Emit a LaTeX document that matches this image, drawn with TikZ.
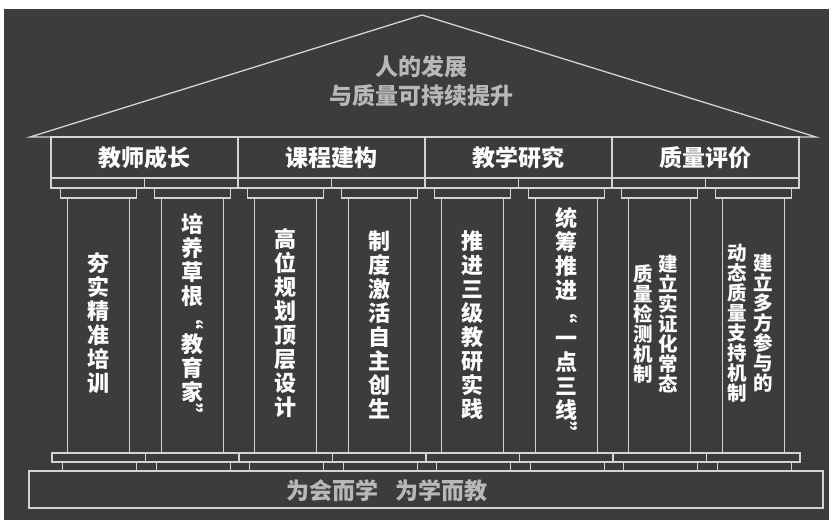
\documentclass[tikz,border=0pt]{standalone}
\usepackage{fontspec}
\setmainfont{Noto Sans CJK SC}
\usepackage{graphicx}
\usetikzlibrary{positioning}

\definecolor{board}{HTML}{3C3C3C}
\definecolor{chalk}{HTML}{D4D4D4}
\definecolor{dimtext}{HTML}{B8B8B8}

\tikzset{
    outline/.style={
           draw=chalk,
           line width=1.3pt,
           },
    cell/.style={
           rectangle,
           outline,
           outer sep=0pt,
           inner sep=0pt,
           },
    header/.style={
           cell,
           minimum width=187pt,
           minimum height=41pt,
           text=white,
           font=\fontsize{23}{23}\selectfont\bfseries,
           },
    pillar/.style={
           text=white,
           align=center,
           inner sep=0pt,
           font=\fontsize{22}{24}\selectfont\bfseries,
           },
    pillar2/.style={
           pillar,
           font=\fontsize{19.5}{20}\selectfont\bfseries,
           },
    motto/.style={
           text=dimtext,
           align=center,
           font=\fontsize{23}{29}\selectfont\bfseries,
           },
}
% rotated quote mark for the vertical texts
\newcommand{\vq}[1]{\makebox[1em][r]{\rotatebox[origin=c]{-90}{#1}}}

\begin{document}
\begin{tikzpicture}[x=1pt,y=-1pt]

 \useasboundingbox (0,0) rectangle (836,522);
 \fill[white] (0,0) rectangle (836,522);
 \fill[board] (4,9) rectangle (829,520);

 % ROOF
 \coordinate (EAVEL) at (30,137);
 \coordinate (APEX) at (422,15);
 \coordinate (EAVER) at (816,137);
 \draw[outline] (EAVEL) -- (APEX) -- (EAVER) -- cycle;

 \node[motto] (GOAL) at (421,81) {人的发展\\与质量可持续提升};

 % HEADER: four cells under the roof
 \node[header, anchor=north west] (TEACH) at (51,137) {教师成长};
 \node[header, right=0pt of TEACH] (COURSE) {课程建构};
 \node[header, right=0pt of COURSE] (RESEARCH) {教学研究};
 \node[header, right=0pt of RESEARCH] (QUALITY) {质量评价};

 % PILLARS: band, capital, shaft, slab, plinth
 \foreach \i in {1,...,8}{
   \pgfmathsetmacro\cx{51+46.75+93.5*(\i-1)}
   \node[cell, minimum width=93.5pt, minimum height=10pt] (BAND\i) at (\cx,183) {};
   \node[cell, minimum width=76pt, minimum height=10pt] (CAP\i) at (\cx+1,193) {};
   \node[cell, minimum width=62pt, minimum height=255pt] (P\i) at (\cx+1,325.5) {};
   \node[cell, minimum width=93.5pt, minimum height=9pt] (SLAB\i) at (\cx+1,457.5) {};
   \node[cell, minimum width=74pt, minimum height=9pt] (FOOT\i) at (\cx+2,466.5) {};
 }

 % BASE
 \node[cell, minimum width=794pt, minimum height=37pt, anchor=north west] (BASE) at (29,471) {};
 \node[motto] (MOTTO) at (387,491) {为会而学\hspace{0.7em}为学而教};

 % texts on the pillars
 \node[pillar, yshift=2pt] (T1) at (P1) {夯\\实\\精\\准\\培\\训};
 \node[pillar, yshift=6pt] (T2) at (P2) {培\\养\\草\\根\\\vq{“}\\教\\育\\家\\\vq{”}};
 \node[pillar, yshift=2pt] (T3) at (P3) {高\\位\\规\\划\\顶\\层\\设\\计};
 \node[pillar, yshift=1pt] (T4) at (P4) {制\\度\\激\\活\\自\\主\\创\\生};
 \node[pillar, yshift=0pt] (T5) at (P5) {推\\进\\三\\级\\教\\研\\实\\践};
 \node[pillar, yshift=0pt] (T6) at (P6) {统\\筹\\推\\进\\\vq{“}\\一\\点\\三\\线\\\vq{”}};
 \node[pillar2, xshift=8pt, yshift=2pt] (T7A) at (P7) {建\\立\\实\\证\\化\\常\\态};
 \node[pillar2, xshift=-17pt, yshift=2pt] (T7B) at (P7) {质\\量\\检\\测\\机\\制};
 \node[pillar2, xshift=10pt, yshift=2pt] (T8A) at (P8) {建\\立\\多\\方\\参\\与\\的};
 \node[pillar2, xshift=-16pt, yshift=2pt] (T8B) at (P8) {动\\态\\质\\量\\支\\持\\机\\制};

\end{tikzpicture}
\end{document}
